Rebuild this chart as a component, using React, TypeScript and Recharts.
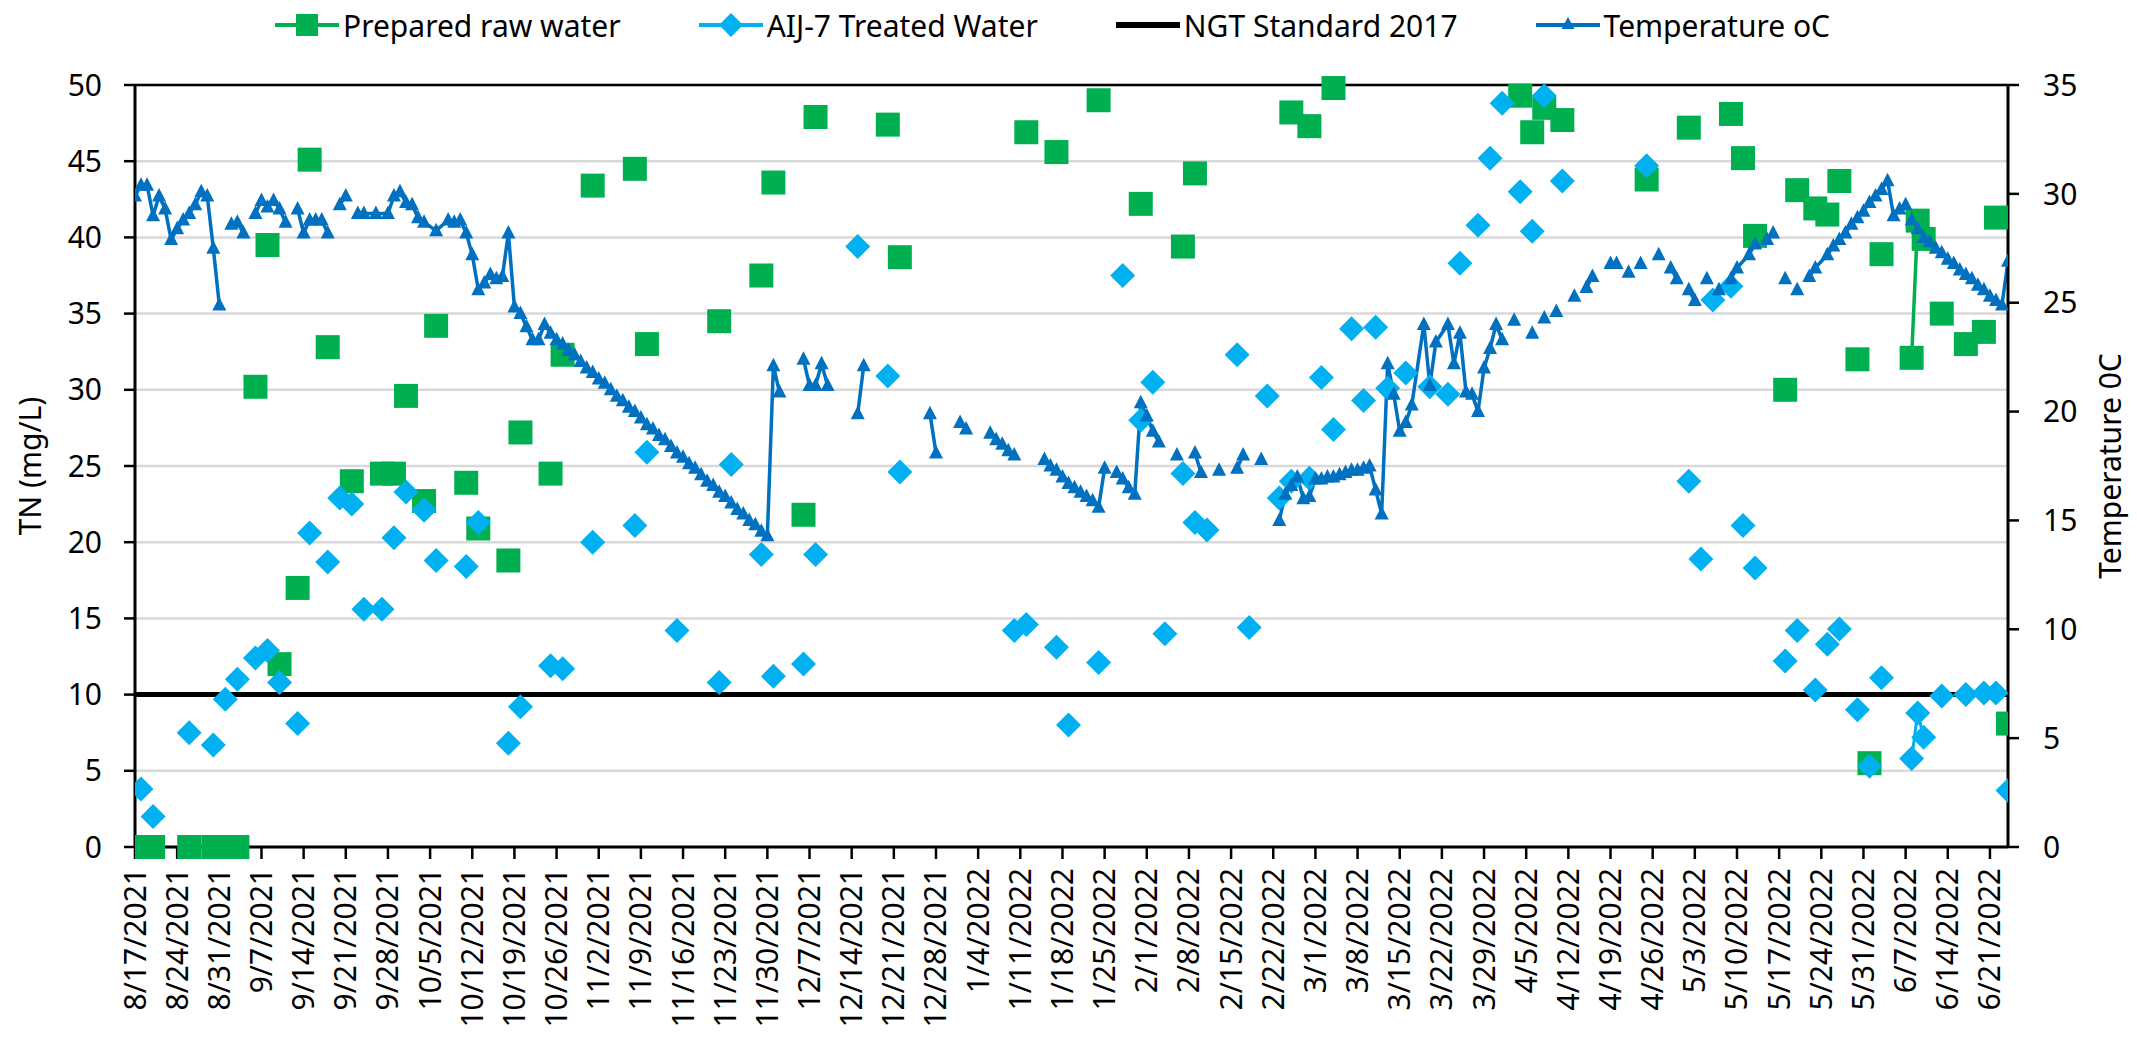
import React from 'react';
import { ComposedChart, Line, XAxis, YAxis, CartesianGrid, Legend, ReferenceLine } from 'recharts';

// ---------- text / layout constants ----------
const FONT = "'Noto Sans', sans-serif";
const FS = 30;
const CHART_W = 2121;
const CHART_H = 1025;
const MARGIN = { top: 77, right: 31, bottom: 26, left: 27 };
const LEFT_AXIS_W = 100;
const RIGHT_AXIS_W = 90;
const X_AXIS_H = 160;

// ---------- data ----------
const START_DATE = '8/17/2021';
const END_DATE = '6/24/2022';

const xTickLabels = [
  '8/17/2021', '8/24/2021', '8/31/2021', '9/7/2021', '9/14/2021', '9/21/2021', '9/28/2021',
  '10/5/2021', '10/12/2021', '10/19/2021', '10/26/2021', '11/2/2021', '11/9/2021', '11/16/2021',
  '11/23/2021', '11/30/2021', '12/7/2021', '12/14/2021', '12/21/2021', '12/28/2021', '1/4/2022',
  '1/11/2022', '1/18/2022', '1/25/2022', '2/1/2022', '2/8/2022', '2/15/2022', '2/22/2022',
  '3/1/2022', '3/8/2022', '3/15/2022', '3/22/2022', '3/29/2022', '4/5/2022', '4/12/2022',
  '4/19/2022', '4/26/2022', '5/3/2022', '5/10/2022', '5/17/2022', '5/24/2022', '5/31/2022',
  '6/7/2022', '6/14/2022', '6/21/2022',
];

const tnTicks = [0, 5, 10, 15, 20, 25, 30, 35, 40, 45, 50];
const tempTicks = [0, 5, 10, 15, 20, 25, 30, 35];

// sample day = days after 8/17/2021
const rawWaterDays = [
  1, 3, 9, 13, 15, 17, 20, 22, 24, 27, 29, 32, 36, 41, 43, 45, 48, 50, 55, 57, 62, 64, 69, 71,
  76, 83, 85, 97, 104, 106, 111, 113, 125, 127, 148, 153, 160, 167, 174, 176, 192, 195, 199,
  230, 232, 234, 237, 251, 258, 265, 267, 269, 274, 276, 279, 281, 283, 286, 288, 290, 295,
  296, 297, 300, 304, 307, 309, 311,
];
const rawWaterTN = [
  0, 0, 0, 0, 0, 0, 30.2, 39.5, 12.0, 17.0, 45.1, 32.8, 24.0, 24.5, 24.5, 29.6, 22.7, 34.2,
  23.9, 20.9, 18.8, 27.2, 24.5, 32.3, 43.4, 44.5, 33.0, 34.5, 37.5, 43.6, 21.8, 47.9, 47.4,
  38.7, 46.9, 45.6, 49.0, 42.2, 39.4, 44.2, 48.2, 47.3, 49.8, 49.3, 46.9, 48.5, 47.7, 43.8,
  47.2, 48.1, 45.2, 40.1, 30.0, 43.1, 41.9, 41.5, 43.7, 32.0, 5.5, 38.9, 32.1, 41.1, 39.9,
  35.0, 33.0, 33.8, 41.3, 8.1,
];

const treatedDays = [
  1, 3, 9, 13, 15, 17, 20, 22, 24, 27, 29, 32, 34, 36, 38, 41, 43, 45, 48, 50, 55, 57, 62, 64,
  69, 71, 76, 83, 85, 90, 97, 99, 104, 106, 111, 113, 120, 125, 127, 146, 148, 153, 155, 160,
  164, 167, 169, 171, 174, 176, 178, 183, 185, 188, 190, 192, 195, 197, 199, 202, 204, 206,
  208, 211, 215, 218, 220, 223, 225, 227, 230, 232, 234, 237, 251, 258, 260, 262, 265, 267,
  269, 274, 276, 279, 281, 283, 286, 288, 290, 295, 296, 297, 300, 304, 307, 309, 311,
];
const treatedTN = [
  3.8, 2.0, 7.5, 6.7, 9.7, 11.0, 12.4, 12.9, 10.8, 8.1, 20.6, 18.7, 22.9, 22.5, 15.6, 15.6,
  20.3, 23.3, 22.1, 18.8, 18.4, 21.3, 6.8, 9.2, 11.9, 11.7, 20.0, 21.1, 25.9, 14.2, 10.8, 25.1,
  19.2, 11.2, 12.0, 19.2, 39.4, 30.9, 24.6, 14.2, 14.6, 13.1, 8.0, 12.1, 37.5, 28.0, 30.5,
  14.0, 24.5, 21.3, 20.8, 32.3, 14.4, 29.6, 22.9, 24.0, 24.2, 30.8, 27.4, 34.0, 29.3, 34.1,
  30.1, 31.1, 30.2, 29.7, 38.3, 40.8, 45.2, 48.8, 43.0, 40.4, 49.3, 43.7, 44.7, 24.0, 18.9,
  35.9, 36.8, 21.1, 18.3, 12.2, 14.2, 10.3, 13.3, 14.3, 9.0, 5.3, 11.1, 5.8, 8.8, 7.2, 9.9,
  10.0, 10.1, 10.1, 3.7,
];

const ngtDates = ['8/17/2021', '6/24/2022'];
const ngtTN = [10, 10];

// temperature runs (day, °C); a new run starts after a gap in the record
const temperatureRuns: [number, number][][] = [
  [[0, 29.9], [1, 30.4], [2, 30.4], [3, 29.0], [4, 29.9], [5, 29.3], [6, 27.9], [7, 28.4], [8, 28.8], [9, 29.1], [10, 29.5], [11, 30.1], [12, 29.9], [13, 27.5], [14, 24.9]],
  [[16, 28.6], [17, 28.7], [18, 28.2]],
  [[20, 29.1], [21, 29.7], [22, 29.4], [23, 29.7], [24, 29.3], [25, 28.7]],
  [[27, 29.3], [28, 28.2], [29, 28.8], [30, 28.8], [31, 28.8], [32, 28.2]],
  [[34, 29.5], [35, 29.9]],
  [[37, 29.1], [38, 29.1], [40, 29.1], [42, 29.1], [43, 29.9], [44, 30.1], [45, 29.6], [46, 29.5], [47, 28.9], [48, 28.7], [50, 28.3], [52, 28.8], [53, 28.7], [54, 28.8], [55, 28.2], [56, 27.2],
   [57, 25.6], [58, 25.9], [59, 26.3], [60, 26.1], [61, 26.2], [62, 28.2], [63, 24.8], [64, 24.5], [65, 23.9], [66, 23.3], [67, 23.3], [68, 24.0], [69, 23.6], [70, 23.3], [71, 23.1], [72, 22.8],
   [73, 22.6], [74, 22.3], [75, 22.0], [76, 21.8], [77, 21.5], [78, 21.3], [79, 21.0], [80, 20.7], [81, 20.5], [82, 20.2], [83, 20.0], [84, 19.7], [85, 19.4], [86, 19.2], [87, 18.9], [88, 18.7],
   [89, 18.4], [90, 18.1], [91, 17.9], [92, 17.6], [93, 17.4], [94, 17.1], [95, 16.8], [96, 16.6], [97, 16.3], [98, 16.1], [99, 15.8], [100, 15.5], [101, 15.3], [102, 15.0], [103, 14.8], [104, 14.5],
   [105, 14.3], [106, 22.1], [107, 20.9]],
  [[111, 22.4], [112, 21.2], [113, 21.2], [114, 22.2], [115, 21.2]],
  [[120, 19.9], [121, 22.1]],
  [[132, 19.9], [133, 18.1]],
  [[137, 19.5], [138, 19.2]],
  [[142, 19.0], [143, 18.7], [144, 18.5], [145, 18.2], [146, 18.0]],
  [[151, 17.8], [152, 17.5], [153, 17.3], [154, 17.0], [155, 16.7], [156, 16.5], [157, 16.3], [158, 16.1], [159, 15.9], [160, 15.6], [161, 17.4]],
  [[163, 17.2], [164, 16.9], [165, 16.5], [166, 16.2], [167, 20.4], [168, 19.8], [169, 19.1], [170, 18.6]],
  [[173, 18.0]],
  [[176, 18.1], [177, 17.2]],
  [[180, 17.3]],
  [[183, 17.4], [184, 18.0]],
  [[187, 17.8]],
  [[190, 15.0], [191, 16.2], [192, 16.6], [193, 17.0], [194, 16.0], [195, 16.1], [196, 16.9], [197, 16.9], [198, 17.0], [199, 17.0], [200, 17.1], [201, 17.2], [202, 17.3], [203, 17.3], [204, 17.4],
   [205, 17.5], [206, 16.4], [207, 15.3], [208, 22.2], [209, 20.8], [210, 19.1], [211, 19.5], [212, 20.3], [214, 24.0], [215, 21.2], [216, 23.2], [218, 24.0], [219, 22.2], [220, 23.6], [221, 20.9],
   [222, 20.8], [223, 20.0], [224, 22.0], [225, 22.9], [226, 24.0], [227, 23.3]],
  [[229, 24.2]],
  [[232, 23.6]],
  [[234, 24.3]],
  [[236, 24.6]],
  [[239, 25.3]],
  [[241, 25.7], [242, 26.2]],
  [[245, 26.8], [246, 26.8]],
  [[248, 26.4]],
  [[250, 26.8]],
  [[253, 27.2]],
  [[255, 26.6], [256, 26.1]],
  [[258, 25.6], [259, 25.1]],
  [[261, 26.1]],
  [[263, 25.6]],
  [[265, 26.1], [266, 26.6], [268, 27.2], [269, 27.7], [271, 27.9], [272, 28.2]],
  [[274, 26.1]],
  [[276, 25.6]],
  [[278, 26.2], [279, 26.6], [281, 27.2], [282, 27.6], [283, 27.9], [284, 28.2], [285, 28.6], [286, 28.9], [287, 29.2], [288, 29.6], [289, 29.9], [290, 30.2], [291, 30.6], [292, 29.0], [293, 29.3],
   [294, 29.5], [295, 28.8], [296, 28.4], [297, 28.0], [298, 27.8], [299, 27.5], [300, 27.3], [301, 27.0], [302, 26.8], [303, 26.5], [304, 26.3], [305, 26.1], [306, 25.8], [307, 25.6], [308, 25.3],
   [309, 25.1], [310, 24.9], [311, 26.9]],
];

// ---------- helpers ----------
const toUtc = (s: string) => {
  const [m, d, y] = s.split('/').map(Number);
  return Date.UTC(y, m - 1, d);
};
const dayOf = (s: string) => Math.round((toUtc(s) - toUtc(START_DATE)) / 86400000);

const xEnd = dayOf(END_DATE);
const xTicks = xTickLabels.map(dayOf);
const tickLabelByDay: Record<number, string> = {};
xTickLabels.forEach((l) => { tickLabelByDay[dayOf(l)] = l; });

type Pt = { x: number; y: number | null };

// a line is drawn only between samples on consecutive days
const buildSampled = (days: number[], vals: number[]): Pt[] => {
  const out: Pt[] = [];
  days.forEach((d, i) => {
    if (i > 0 && d - days[i - 1] > 1) out.push({ x: (d + days[i - 1]) / 2, y: null });
    out.push({ x: d, y: vals[i] });
  });
  return out;
};
const buildRuns = (runs: [number, number][][]): Pt[] => {
  const out: Pt[] = [];
  runs.forEach((run, i) => {
    if (i > 0) {
      const prev = runs[i - 1][runs[i - 1].length - 1][0];
      out.push({ x: (prev + run[0][0]) / 2, y: null });
    }
    run.forEach(([x, y]) => out.push({ x, y }));
  });
  return out;
};

const rawData = buildSampled(rawWaterDays, rawWaterTN);
const treatedData = buildSampled(treatedDays, treatedTN);
const ngtData: Pt[] = ngtDates.map((d, i) => ({ x: dayOf(d), y: ngtTN[i] }));
const tempData = buildRuns(temperatureRuns);

const GREEN = '#00B050';
const LIGHT_BLUE = '#00B0F0';
const DARK_BLUE = '#0070C0';

const empty = (key: string) => <g key={key} />;

const SquareDot = (p: any) => {
  const key = `sq-${p.index}`;
  if (p.payload?.y == null || p.cy == null) return empty(key);
  return <rect key={key} x={p.cx - 12} y={p.cy - 12} width={24} height={24} fill={GREEN} />;
};
const DiamondDot = (p: any) => {
  const key = `dm-${p.index}`;
  if (p.payload?.y == null || p.cy == null) return empty(key);
  const r = 12.5;
  return <path key={key} d={`M${p.cx},${p.cy - r}L${p.cx + r},${p.cy}L${p.cx},${p.cy + r}L${p.cx - r},${p.cy}Z`} fill={LIGHT_BLUE} />;
};
const TriangleDot = (p: any) => {
  const key = `tr-${p.index}`;
  if (p.payload?.y == null || p.cy == null) return empty(key);
  return <path key={key} d={`M${p.cx},${p.cy - 8}L${p.cx + 7},${p.cy + 5.5}L${p.cx - 7},${p.cy + 5.5}Z`} fill={DARK_BLUE} />;
};

const XTick = (props: any) => {
  const { x, y, payload } = props;
  return (
    <text x={x} y={y} transform={`rotate(-90, ${x}, ${y})`} textAnchor="end" dy="0.35em"
      fontFamily={FONT} fontSize={FS} fill="#000">
      {tickLabelByDay[payload.value] ?? ''}
    </text>
  );
};

const plotTop = MARGIN.top;
const plotBottom = CHART_H - MARGIN.bottom - X_AXIS_H;
const plotMidY = (plotTop + plotBottom) / 2;

const legendItems = [
  { label: 'Prepared raw water', color: GREEN, marker: 'square' },
  { label: 'AIJ-7 Treated Water', color: LIGHT_BLUE, marker: 'diamond' },
  { label: 'NGT Standard 2017', color: '#000', marker: 'none' },
  { label: 'Temperature oC', color: DARK_BLUE, marker: 'triangle' },
];

const LegendContent = () => (
  <div style={{ display: 'flex', alignItems: 'center', paddingLeft: 267, fontFamily: FONT, fontSize: FS, color: '#000', height: 40, whiteSpace: 'nowrap' }}>
    {legendItems.map((it) => (
      <div key={it.label} style={{ display: 'flex', alignItems: 'center', marginRight: 78 }}>
        <svg width={64} height={30} style={{ display: 'block' }}>
          <line x1={0} y1={15} x2={64} y2={15} stroke={it.color} strokeWidth={it.marker === 'none' ? 6 : 4} />
          {it.marker === 'square' && <rect x={21} y={4} width={22} height={22} fill={it.color} />}
          {it.marker === 'diamond' && <path d="M32,3L44,15L32,27L20,15Z" fill={it.color} />}
          {it.marker === 'triangle' && <path d="M32,7L38.5,19L25.5,19Z" fill={it.color} />}
        </svg>
        <span style={{ marginLeft: 4 }}>{it.label}</span>
      </div>
    ))}
  </div>
);

export default function App() {
  return (
    <ComposedChart width={CHART_W} height={CHART_H} margin={MARGIN}>
      <CartesianGrid yAxisId="left" vertical={false} stroke="#D9D9D9" strokeWidth={2.5} />
      <XAxis
        type="number"
        dataKey="x"
        domain={[0, xEnd]}
        ticks={xTicks}
        interval={0}
        allowDataOverflow
        height={X_AXIS_H}
        tickSize={12}
        tickMargin={9}
        tick={<XTick />}
        axisLine={{ stroke: '#000', strokeWidth: 3 }}
        tickLine={{ stroke: '#000', strokeWidth: 2.5 }}
      />
      <YAxis
        yAxisId="left"
        type="number"
        domain={[0, 50]}
        ticks={tnTicks}
        interval={0}
        width={LEFT_AXIS_W}
        tickSize={11}
        tickMargin={22}
        tick={{ fontFamily: FONT, fontSize: FS, fill: '#000' }}
        axisLine={{ stroke: '#000', strokeWidth: 3 }}
        tickLine={{ stroke: '#000', strokeWidth: 2.5 }}
        label={{
          content: () => (
            <text x={22} y={plotMidY} transform={`rotate(-90, 22, ${plotMidY})`} textAnchor="middle"
              dy="0.35em" fontFamily={FONT} fontSize={FS} fill="#000">TN (mg/L)</text>
          ),
        }}
      />
      <YAxis
        yAxisId="right"
        orientation="right"
        type="number"
        domain={[0, 35]}
        ticks={tempTicks}
        interval={0}
        width={RIGHT_AXIS_W}
        tickSize={11}
        tickMargin={24}
        tick={{ fontFamily: FONT, fontSize: FS, fill: '#000' }}
        axisLine={{ stroke: '#000', strokeWidth: 3 }}
        tickLine={{ stroke: '#000', strokeWidth: 2.5 }}
        label={{
          content: () => (
            <text x={2102} y={plotMidY} transform={`rotate(-90, 2102, ${plotMidY})`} textAnchor="middle"
              dy="0.35em" fontFamily={FONT} fontSize={FS} fill="#000">Temperature 0C</text>
          ),
        }}
      />
      <ReferenceLine yAxisId="left" y={50} stroke="#000" strokeWidth={2.5} />
      <Line yAxisId="left" data={rawData} dataKey="y" name="Prepared raw water" stroke={GREEN} strokeWidth={3.5}
        dot={SquareDot} activeDot={false} connectNulls={false} isAnimationActive={false} />
      <Line yAxisId="left" data={treatedData} dataKey="y" name="AIJ-7 Treated Water" stroke={LIGHT_BLUE} strokeWidth={3}
        dot={DiamondDot} activeDot={false} connectNulls={false} isAnimationActive={false} />
      <Line yAxisId="left" data={ngtData} dataKey="y" name="NGT Standard 2017" stroke="#000" strokeWidth={5}
        dot={false} activeDot={false} isAnimationActive={false} />
      <Line yAxisId="right" data={tempData} dataKey="y" name="Temperature oC" stroke={DARK_BLUE} strokeWidth={3.5}
        dot={TriangleDot} activeDot={false} connectNulls={false} isAnimationActive={false} />
      <Legend verticalAlign="middle" layout="horizontal" content={<LegendContent />}
        wrapperStyle={{ top: -3, left: 0, width: CHART_W, height: 40 }} />
    </ComposedChart>
  );
}
